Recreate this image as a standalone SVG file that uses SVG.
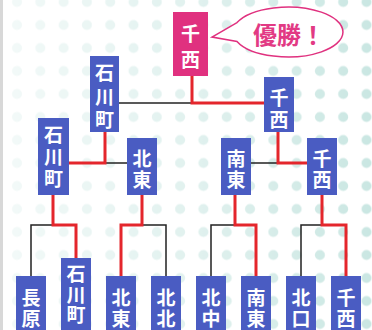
<svg xmlns="http://www.w3.org/2000/svg" width="372" height="330" viewBox="0 0 372 330">
<defs>
<style>
.nb{fill:#4a5cc2}
.nm{fill:#e0317f}
.t{fill:#fff;font-family:"Noto Sans CJK JP","Noto Sans CJK SC",sans-serif;font-size:19px;font-weight:700;text-anchor:middle;dominant-baseline:central}
.r{fill:none;stroke:#e4262c;stroke-width:3}
.k{fill:none;stroke:#222;stroke-width:1.5}
</style>
<pattern id="dots" patternUnits="userSpaceOnUse" x="5.35" y="-9.5" width="23.3" height="23">
<circle cx="11.65" cy="11.5" r="5" fill="#c4e4df"/>
</pattern>
<linearGradient id="fade" x1="0" y1="0" x2="1" y2="0">
<stop offset="0" stop-color="#fff" stop-opacity="0.2"/>
<stop offset="0.5" stop-color="#fff" stop-opacity="0.5"/>
<stop offset="1" stop-color="#fff" stop-opacity="0.9"/>
</linearGradient>
<mask id="m"><rect width="372" height="330" fill="url(#fade)"/></mask>
</defs>
<rect width="372" height="330" fill="#fff"/>
<rect width="372" height="330" fill="url(#dots)" mask="url(#m)"/>
<rect x="0" y="0" width="3" height="330" fill="#d8d8d8"/>

<g id="connectors">
<path class="k" d="M119,103 H192"/>
<path class="k" d="M105,163 H127"/>
<path class="k" d="M251,163 H278"/>
<path class="k" d="M53,225 H31 V276"/>
<path class="k" d="M142,225 H166 V276"/>
<path class="k" d="M235,225 H211 V276"/>
<path class="k" d="M322,225 H301 V276"/>
<path class="r" d="M192,76 V103 H264"/>
<path class="r" d="M105,132 V163 H69"/>
<path class="r" d="M278,132 V163 H307"/>
<path class="r" d="M53,195 V225 H76 V258"/>
<path class="r" d="M142,195 V225 H121 V276"/>
<path class="r" d="M235,195 V225 H256 V276"/>
<path class="r" d="M322,195 V225 H346 V276"/>
</g>

<g id="bubble">
<path d="M237,22.6 L212,37 L237,41.4 A55 25 0 1 0 237,22.6 Z" fill="#fff" stroke="#e0317f" stroke-width="1.5"/>
<text x="289" y="33" fill="#e23a84" font-family="Noto Sans CJK JP,sans-serif" font-size="24" font-weight="700" text-anchor="middle" dominant-baseline="central">優勝！</text>
</g>

<g id="n-final"><rect class="nm" x="173" y="12" width="35" height="64"/><text class="t" x="190.5" y="32" font-size="20">千</text><text class="t" x="190.5" y="58" font-size="20">西</text></g>

<g id="n-s1"><rect class="nb" x="90" y="56" width="29" height="76"/><text class="t" x="104.5" y="71">石</text><text class="t" x="104.5" y="95">川</text><text class="t" x="104.5" y="118">町</text></g>
<g id="n-s2"><rect class="nb" x="264" y="77" width="30" height="55"/><text class="t" x="279" y="96">千</text><text class="t" x="279" y="118">西</text></g>

<g id="n-q1"><rect class="nb" x="38" y="118" width="31" height="77"/><text class="t" x="53.5" y="133">石</text><text class="t" x="53.5" y="155">川</text><text class="t" x="53.5" y="177">町</text></g>
<g id="n-q2"><rect class="nb" x="127" y="138" width="30" height="57"/><text class="t" x="142" y="157">北</text><text class="t" x="142" y="178">東</text></g>
<g id="n-q3"><rect class="nb" x="221" y="138" width="30" height="57"/><text class="t" x="236" y="157">南</text><text class="t" x="236" y="178">東</text></g>
<g id="n-q4"><rect class="nb" x="307" y="138" width="30" height="57"/><text class="t" x="322" y="157">千</text><text class="t" x="322" y="178">西</text></g>

<g id="n-l1"><rect class="nb" x="16" y="276" width="30" height="60"/><text class="t" x="31" y="296">長</text><text class="t" x="31" y="317">原</text></g>
<g id="n-l2"><rect class="nb" x="61" y="258" width="30" height="78"/><text class="t" x="76" y="272">石</text><text class="t" x="76" y="293">川</text><text class="t" x="76" y="313">町</text></g>
<g id="n-l3"><rect class="nb" x="106" y="276" width="30" height="60"/><text class="t" x="121" y="296">北</text><text class="t" x="121" y="317">東</text></g>
<g id="n-l4"><rect class="nb" x="151" y="276" width="30" height="60"/><text class="t" x="166" y="296">北</text><text class="t" x="166" y="317">北</text></g>
<g id="n-l5"><rect class="nb" x="196" y="276" width="30" height="60"/><text class="t" x="211" y="296">北</text><text class="t" x="211" y="317">中</text></g>
<g id="n-l6"><rect class="nb" x="241" y="276" width="30" height="60"/><text class="t" x="256" y="296">南</text><text class="t" x="256" y="317">東</text></g>
<g id="n-l7"><rect class="nb" x="286" y="276" width="30" height="60"/><text class="t" x="301" y="296">北</text><text class="t" x="301" y="317">口</text></g>
<g id="n-l8"><rect class="nb" x="331" y="276" width="30" height="60"/><text class="t" x="346" y="296">千</text><text class="t" x="346" y="317">西</text></g>
</svg>
